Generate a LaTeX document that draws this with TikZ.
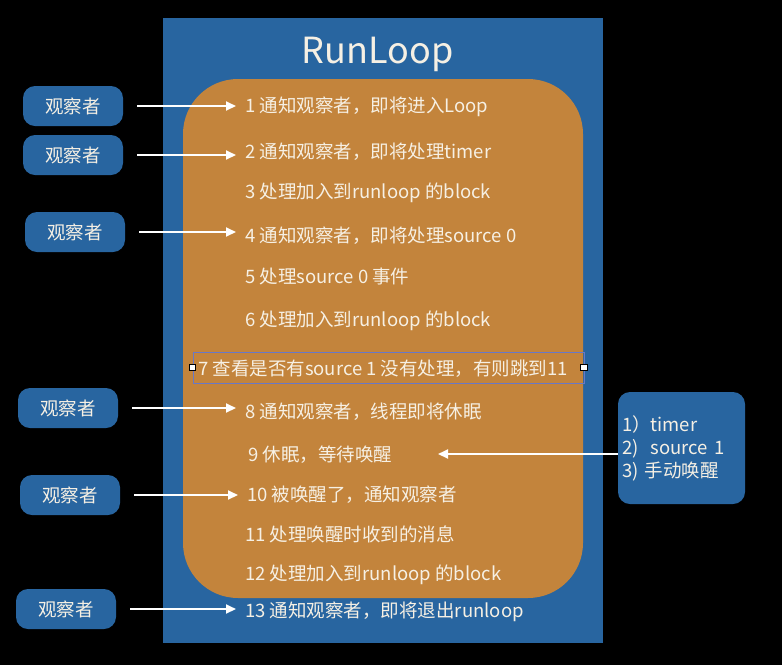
\documentclass[tikz,border=0pt]{standalone}
\usepackage{fontspec}
\setmainfont{Noto Sans CJK SC}
\usetikzlibrary{arrows.meta,positioning}
\definecolor{loopblue}{RGB}{40,101,160}
\definecolor{looporange}{RGB}{195,132,60}
\definecolor{textwhite}{RGB}{246,240,228}
\definecolor{selblue}{RGB}{104,120,200}

\begin{document}
\begin{tikzpicture}[x=1pt,y=-1pt,>={Triangle[length=10pt,width=9pt]},
    observer/.style={rectangle,rounded corners=12pt,fill=loopblue,minimum width=100pt,minimum height=40pt,text=textwhite,font=\fontsize{18.5}{20}\selectfont},
    stepline/.style={anchor=base west,inner sep=0pt,text=textwhite,font=\fontsize{18.5}{20}\selectfont},
    hook/.style={->,draw=white,line width=2pt},
    handle/.style={rectangle,draw=black,fill=white,line width=0.6pt,minimum size=6.5pt,inner sep=0pt}]

            \fill[black] (0,0) rectangle (782,665);
            \fill[loopblue] (163,18) rectangle (603,643);
            \fill[looporange,rounded corners=55pt] (183,79) rectangle (583,598);

            \node[anchor=base,text=textwhite,font=\fontsize{36}{40}\selectfont] (title) at (377.5,63) {RunLoop};

            \node[stepline] (s1) at (245,112) {1 通知观察者，即将进入Loop};
            \node[stepline] (s2) at (245,158) {2 通知观察者，即将处理timer};
            \node[stepline] (s3) at (245,198) {3 处理加入到runloop 的block};
            \node[stepline] (s4) at (245,242) {4 通知观察者，即将处理source 0};
            \node[stepline] (s5) at (245,283) {5 处理source 0 事件};
            \node[stepline] (s6) at (245,326) {6 处理加入到runloop 的block};
            \node[stepline] (s7) at (198,375) {7 查看是否有source 1 没有处理，有则跳到11};
            \node[stepline] (s8) at (245,418) {8 通知观察者，线程即将休眠};
            \node[stepline] (s9) at (248,461) {9 休眠，等待唤醒};
            \node[stepline] (s10) at (247,501) {10 被唤醒了，通知观察者};
            \node[stepline] (s11) at (245,541) {11 处理唤醒时收到的消息};
            \node[stepline] (s12) at (245,580) {12 处理加入到runloop 的block};
            \node[stepline] (s13) at (245,617) {13 通知观察者，即将退出runloop};

            % selection frame round step 7
            \draw[selblue,line width=0.6pt] (193,352.5) rectangle (584,383);
            \node[handle] (hl) at (192.5,367.5) {};
            \node[handle] (hr) at (584,367.5) {};

            \node[observer] (o1) at (73,106) {观察者};
            \node[observer] (o2) at (73,155) {观察者};
            \node[observer] (o3) at (75,232) {观察者};
            \node[observer] (o4) at (68,408) {观察者};
            \node[observer] (o5) at (70,495) {观察者};
            \node[observer] (o6) at (66,609) {观察者};

            \node[rectangle,rounded corners=12pt,fill=loopblue,minimum width=127pt,minimum height=112pt,
                  text width=119pt,inner xsep=4pt,align=left,text=textwhite,font=\fontsize{18.5}{23}\selectfont]
                  (wake) at (681.5,448) {1）timer\\2)~~source 1\\3) 手动唤醒};

            \coordinate (s9in) at (438,454);

            \path[every edge/.append style={hook,shorten <=14pt,shorten >=9pt}]
                      (o1.east) edge (o1.east -| s1.west)
                      (o2.east) edge (o2.east -| s2.west)
                      (o3.east) edge (o3.east -| s4.west)
                      (o4.east) edge (o4.east -| s8.west)
                      (o5.east) edge (o5.east -| s10.west)
                      (o6.east) edge (o6.east -| s13.west);
            \draw[hook] (wake.west |- s9in) -- (s9in);

        \end{tikzpicture}
\end{document}
